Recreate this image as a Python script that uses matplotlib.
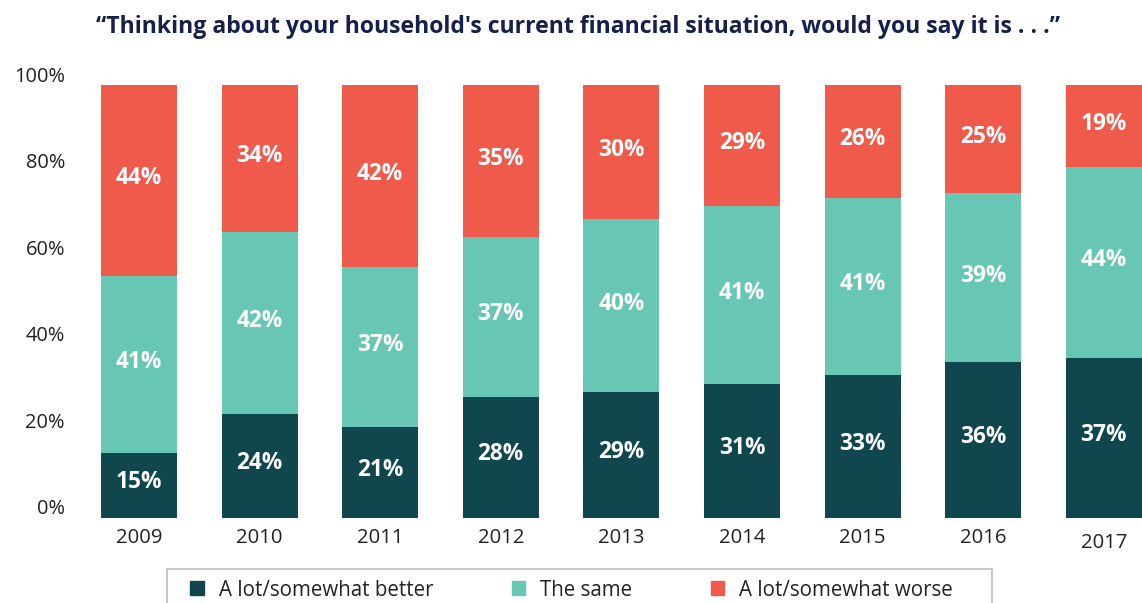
import matplotlib
matplotlib.use("Agg")
import matplotlib.pyplot as plt
import matplotlib.transforms as mtransforms
from matplotlib.patches import Rectangle, Patch
import numpy as np

plt.rcParams['font.family'] = ['Open Sans', 'DejaVu Sans']

# data
years = ['2009', '2010', '2011', '2012', '2013', '2014', '2015', '2016', '2017']
better = [15, 24, 21, 28, 29, 31, 33, 36, 37]
same = [41, 42, 37, 37, 40, 41, 41, 39, 44]
worse = [44, 34, 42, 35, 30, 29, 26, 25, 19]
series_names = ['A lot/somewhat better', 'The same', 'A lot/somewhat worse']
yticks = [0, 20, 40, 60, 80, 100]

c_better = '#10474f'
c_same = '#67c6b4'
c_worse = '#f05a4a'
title_col = '#16204a'
txt_col = '#222222'

W, H = 1142, 603
fig = plt.figure(figsize=(W / 100, H / 100), dpi=100)
ax = fig.add_axes([66.6 / W, 85 / H, 1075.2 / W, 433 / H])

x = np.arange(len(years))
b = np.array(better)
s = np.array(same)
w = np.array(worse)
bw = 0.63

ax.bar(x, b, bw, color=c_better)
ax.bar(x, s, bw, bottom=b, color=c_same)
# worse fills the bar up to 100%
ax.bar(x, 100 - b - s, bw, bottom=b + s, color=c_worse)

lab_kw = dict(color='white', ha='center', va='center', fontsize=16.3, fontweight='bold')
for i in range(len(years)):
    ax.text(x[i], b[i] / 2 + 0.7, f"{better[i]}%", **lab_kw)
    ax.text(x[i], b[i] + s[i] / 2 + 0.5, f"{same[i]}%", **lab_kw)
    ax.text(x[i], (b[i] + s[i] + 100) / 2 + 0.5, f"{worse[i]}%", **lab_kw)

ax.set_xlim(-0.6, 8.315)
ax.set_ylim(0, 100)
for sp in ax.spines.values():
    sp.set_visible(False)

ax.set_yticks(yticks)
ax.set_yticklabels([f"{t}%" for t in yticks])
ax.set_xticks(x)
ax.set_xticklabels(years)
ax.tick_params(axis='y', length=0, pad=1.2, labelsize=14.4, labelcolor=txt_col)
ax.tick_params(axis='x', length=0, pad=7, labelsize=14.6, labelcolor=txt_col)

up = mtransforms.ScaledTranslation(0, 11 / 100, fig.dpi_scale_trans)
for lbl in ax.get_yticklabels():
    lbl.set_transform(lbl.get_transform() + up)
down = mtransforms.ScaledTranslation(0, -5 / 100, fig.dpi_scale_trans)
last = ax.get_xticklabels()[-1]
last.set_transform(last.get_transform() + down)

fig.text(578 / W, 1 - 27 / H,
         "\u201cThinking about your household's current financial situation, would you say it is . . .\u201d",
         ha='center', va='center', fontsize=16.6, fontweight='bold', color=title_col)

# legend box (runs off the bottom edge)
fig.patches.append(Rectangle((167 / W, -10 / H), (992 - 167) / W, (603 - 569 + 10) / H,
                             transform=fig.transFigure, fill=False, edgecolor='#c8c8c8',
                             linewidth=1.5))
handles = [Patch(color=c_better), Patch(color=c_same), Patch(color=c_worse)]
fig.legend(handles, series_names, loc='center left', bbox_to_anchor=(180 / W, 1 - 590 / H),
           ncol=3, frameon=False, fontsize=14.8, handlelength=0.65, handleheight=0.65,
           handletextpad=0.75, columnspacing=3.8, borderpad=0, labelcolor=txt_col)

fig.savefig('out.png', dpi=100)
